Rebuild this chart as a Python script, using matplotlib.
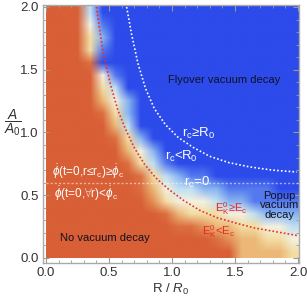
import numpy as np
import matplotlib
matplotlib.use("Agg")
import matplotlib.pyplot as plt
from matplotlib.colors import to_rgb
from matplotlib.ticker import MultipleLocator

# outcome map, one string per row of A (0.05 ... 1.95, bottom to top),
# one digit per column of R (0.05 ... 1.95); 0 = no decay, 9 = flyover
grid_rows = [
    "00000000000000033334",
    "00000000000001233445",
    "00000000001123344556",
    "00000000013444556777",
    "00000000245556778888",
    "00000001356677888899",
    "00000001467889999999",
    "00000014689999999999",
    "00000035799999999999",
    "00000147999999999999",
    "00000369999999999999",
    "00001479999999999999",
    "00003579999999999999",
    "00004699999999999999",
    "00005899999999999999",
    "00019999999999999999",
    "00048999999999999999",
    "00047999999999999999",
    "00058999999999999999",
    "00069999999999999999",
]
level_colors = ["#d85f36", "#dc6f40", "#e39257", "#ebb877", "#f3dda4",
                "#f3f1e0", "#bfdff3", "#88b4f1", "#5479ee", "#2c4bea"]

# r_c = R_0 boundary (white dotted)
white_R = [0.64, 0.68, 0.73, 0.79, 0.86, 0.95, 1.05, 1.17, 1.30, 1.45, 1.62, 1.80, 1.99]
white_A = [2.0, 1.78, 1.55, 1.35, 1.19, 1.06, 0.96, 0.88, 0.81, 0.76, 0.725, 0.70, 0.685]
# E_K^0 = E_c boundary (red dotted)
red_R = [0.40, 0.45, 0.51, 0.57, 0.63, 0.70, 0.78, 0.87, 0.97, 1.09, 1.22, 1.36, 1.50, 1.65, 1.82, 1.99]
red_A = [2.0, 1.66, 1.39, 1.18, 1.03, 0.88, 0.75, 0.64, 0.55, 0.46, 0.38, 0.32, 0.28, 0.24, 0.21, 0.18]
rc0_A = 0.6

plt.rcParams["font.family"] = ["Liberation Sans", "DejaVu Sans"]
plt.rcParams["mathtext.fontset"] = "custom"
plt.rcParams["mathtext.rm"] = "Liberation Sans"
plt.rcParams["mathtext.it"] = "Liberation Sans:italic"
plt.rcParams["mathtext.bf"] = "Liberation Sans:bold"

fig = plt.figure(figsize=(3.07, 2.99), dpi=100)
ax = fig.add_axes([0.139, 0.1204, 0.835, 0.863])

levels = [[int(c) for c in row] for row in grid_rows]
rgb = np.array([[to_rgb(level_colors[d]) for d in row] for row in levels])
ax.imshow(rgb, origin="lower", extent=(0, 2, 0, 2), interpolation="bilinear", aspect="auto")

ax.plot(white_R, white_A, color="white", lw=1.2, ls=(0, (1, 1.3)))
ax.plot(red_R, red_A, color="#e8302a", lw=1.2, ls=(0, (1, 1.3)))
ax.axhline(rc0_A, xmin=0.013, xmax=0.995, color="white", alpha=0.55, lw=1.0, ls=(0, (1.5, 1.5)))

dark = "#111122"
ax.text(1.41, 1.42, "Flyover vacuum decay", color=dark, fontsize=8, ha="center", va="center")
wt = dict(color="white", fontsize=9.5, ha="center", va="center")
ax.text(1.21, 0.99, r"r$_\mathregular{c}$≥R$_\mathregular{0}$", **wt)
ax.text(1.07, 0.81, r"r$_\mathregular{c}$<R$_\mathregular{0}$", **wt)
ax.text(1.20, 0.60, r"r$_\mathregular{c}$=0", **wt)
ax.text(1.85, 0.42, "Popup\nvacuum\ndecay", color=dark, fontsize=8,
        ha="center", va="center", linespacing=0.95)
ax.text(1.47, 0.39, r"E$_\mathregular{K}^\mathregular{0}$≥E$_\mathregular{c}$", color="#e8262a",
        fontsize=8, ha="center", va="center")
ax.text(1.37, 0.21, r"E$_\mathregular{K}^\mathregular{0}$<E$_\mathregular{c}$", color="#e8262a",
        fontsize=8, ha="center", va="center")
ax.text(0.335, 0.69, r"$\dot{\phi}$(t=0,r≤r$_\mathregular{c}$)≥$\dot{\phi}_\mathregular{c}$", color="white",
        fontsize=8.5, ha="center", va="center")
ax.text(0.32, 0.51, r"$\dot{\phi}$(t=0,$\forall$r)<$\dot{\phi}_\mathregular{c}$", color="white",
        fontsize=8.5, ha="center", va="center")
ax.text(0.47, 0.16, "No vacuum decay", color=dark, fontsize=8, ha="center", va="center")

ax.set_xlim(-0.026, 2.008)
ax.set_ylim(-0.04, 2.016)
ax.xaxis.set_major_locator(MultipleLocator(0.5))
ax.yaxis.set_major_locator(MultipleLocator(0.5))
ax.xaxis.set_minor_locator(MultipleLocator(0.1))
ax.yaxis.set_minor_locator(MultipleLocator(0.1))
ax.xaxis.set_major_formatter(lambda v, p: "{:.1f}".format(v))
ax.yaxis.set_major_formatter(lambda v, p: "{:.1f}".format(v))
ax.tick_params(which="both", direction="in", top=True, right=True, color="#999999",
               labelcolor="#333333", labelsize=9.5, pad=3)
ax.tick_params(which="major", length=4, width=0.8)
ax.tick_params(which="minor", length=2, width=0.6)
for s in ax.spines.values():
    s.set_color("#aaaaaa")
    s.set_linewidth(1.0)

ax.set_xlabel(r"R / $R_0$", fontsize=9.5, color="#333333", labelpad=2)
ax.text(-0.115, 0.545, r"$\dfrac{A}{A_0}$", transform=ax.transAxes, fontsize=10,
        color="#333333", ha="center", va="center")

fig.savefig("out.png", dpi=100)
